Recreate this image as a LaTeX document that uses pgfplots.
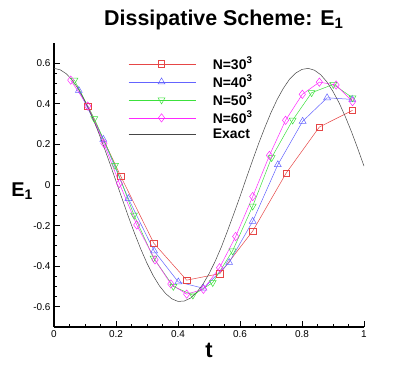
\documentclass[border=0pt]{standalone}
\usepackage{pgfplots}
\pgfplotsset{compat=1.18}
\usepackage{fontspec}
\setmainfont{Liberation Sans}

\definecolor{cRed}{RGB}{230,70,70}
\definecolor{cBlue}{RGB}{100,100,255}
\definecolor{cGreen}{RGB}{60,225,60}
\definecolor{cMag}{RGB}{255,40,255}
\definecolor{cExact}{RGB}{70,70,70}

\begin{document}
\begin{tikzpicture}
\path[use as bounding box] (-54bp,-42bp) rectangle (361bp,327bp);
\begin{axis}[
  at={(0,0)}, anchor=south west,
  scale only axis,
  width=310bp, height=284bp,
  xmin=0, xmax=1,
  ymin=-0.7, ymax=0.7,
  axis x line*=bottom,
  axis y line*=left,
  axis line style={line width=1.3pt},
  xtick={0,0.2,0.4,0.6,0.8,1},
  ytick={-0.6,-0.4,-0.2,0,0.2,0.4,0.6},
  minor tick num=3,
  tick align=inside,
  major tick length=6bp,
  minor tick length=3.5bp,
  every tick/.style={black, line width=0.8pt},
  tick label style={font=\fontsize{10}{12}\selectfont},
  /pgf/number format/assume math mode=true,
  legend style={draw=none, fill=none, at={(0.239,0.958)}, anchor=north west,
    font=\bfseries\fontsize{14}{18}\selectfont, row sep=0.5bp, column sep=15bp,
    inner sep=0pt},
  legend cell align=left,
  legend image code/.code={%
    \draw[#1, mark repeat=2, mark phase=2] plot coordinates {(0bp,0bp) (33bp,0bp) (67bp,0bp)};},
  clip=false,
]
\addplot[cRed, line width=0.5pt, mark=square, mark size=3.2pt] coordinates {
  (0.109,0.389) (0.215,0.044) (0.322,-0.287) (0.428,-0.469) (0.535,-0.437)
  (0.641,-0.227) (0.749,0.059) (0.856,0.286) (0.963,0.368)
};
\addlegendentry{N=30\textsuperscript{3}}
\addplot[cBlue, line width=0.5pt, mark=triangle, mark size=4pt] coordinates {
  (0.080,0.466) (0.159,0.225) (0.240,-0.067) (0.323,-0.325) (0.401,-0.478)
  (0.482,-0.509) (0.565,-0.382) (0.641,-0.179) (0.722,0.100) (0.802,0.314)
  (0.881,0.430) (0.962,0.422)
};
\addlegendentry{N=40\textsuperscript{3}}
\addplot[cGreen, line width=0.5pt, mark=triangle, mark options={rotate=180}, mark size=4pt] coordinates {
  (0.066,0.517) (0.130,0.327) (0.197,0.097) (0.258,-0.148) (0.321,-0.360)
  (0.385,-0.500) (0.448,-0.543) (0.512,-0.481) (0.576,-0.325) (0.641,-0.104)
  (0.702,0.135) (0.770,0.320) (0.831,0.455) (0.901,0.496) (0.963,0.430)
};
\addlegendentry{N=50\textsuperscript{3}}
\addplot[cMag, line width=0.5pt, mark=diamond, mark size=4.2pt] coordinates {
  (0.054,0.517) (0.109,0.389) (0.161,0.205) (0.211,0.008) (0.267,-0.197)
  (0.326,-0.369) (0.377,-0.488) (0.428,-0.538) (0.482,-0.514) (0.534,-0.408)
  (0.586,-0.254) (0.641,-0.057) (0.695,0.146) (0.747,0.319) (0.801,0.447)
  (0.856,0.507) (0.910,0.493) (0.963,0.411)
};
\addlegendentry{N=60\textsuperscript{3}}
\addplot[cExact, line width=0.5pt, no markers] coordinates {
  (0,0.575) (0.02,0.568) (0.04,0.548) (0.06,0.515) (0.08,0.470) (0.10,0.413)
  (0.12,0.347) (0.14,0.273) (0.16,0.192) (0.18,0.107) (0.20,0.019) (0.22,-0.069)
  (0.24,-0.156) (0.26,-0.239) (0.28,-0.316) (0.30,-0.386) (0.32,-0.447)
  (0.34,-0.497) (0.36,-0.535) (0.38,-0.561) (0.40,-0.574) (0.42,-0.572)
  (0.44,-0.558) (0.46,-0.530) (0.48,-0.490) (0.50,-0.438) (0.52,-0.376)
  (0.54,-0.305) (0.56,-0.225) (0.58,-0.142) (0.60,-0.057) (0.62,0.032)
  (0.64,0.119) (0.66,0.204) (0.68,0.283) (0.70,0.357) (0.72,0.422)
  (0.74,0.477) (0.76,0.522) (0.78,0.552) (0.80,0.570) (0.82,0.575)
  (0.84,0.566) (0.86,0.544) (0.88,0.509) (0.90,0.461) (0.92,0.404)
  (0.94,0.336) (0.96,0.261) (0.98,0.179) (1.00,0.093)
};
\addlegendentry{Exact}
\node[font=\bfseries\fontsize{21.5}{24}\selectfont] at (rel axis cs:0.548,1.081) {Dissipative Scheme: E\textsubscript{1}};
\node[font=\bfseries\fontsize{20}{24}\selectfont] at (rel axis cs:-0.103,0.478) {E\textsubscript{1}};
\node[font=\bfseries\fontsize{22}{24}\selectfont] at (rel axis cs:0.5,-0.081) {t};
\end{axis}
\end{tikzpicture}
\end{document}
